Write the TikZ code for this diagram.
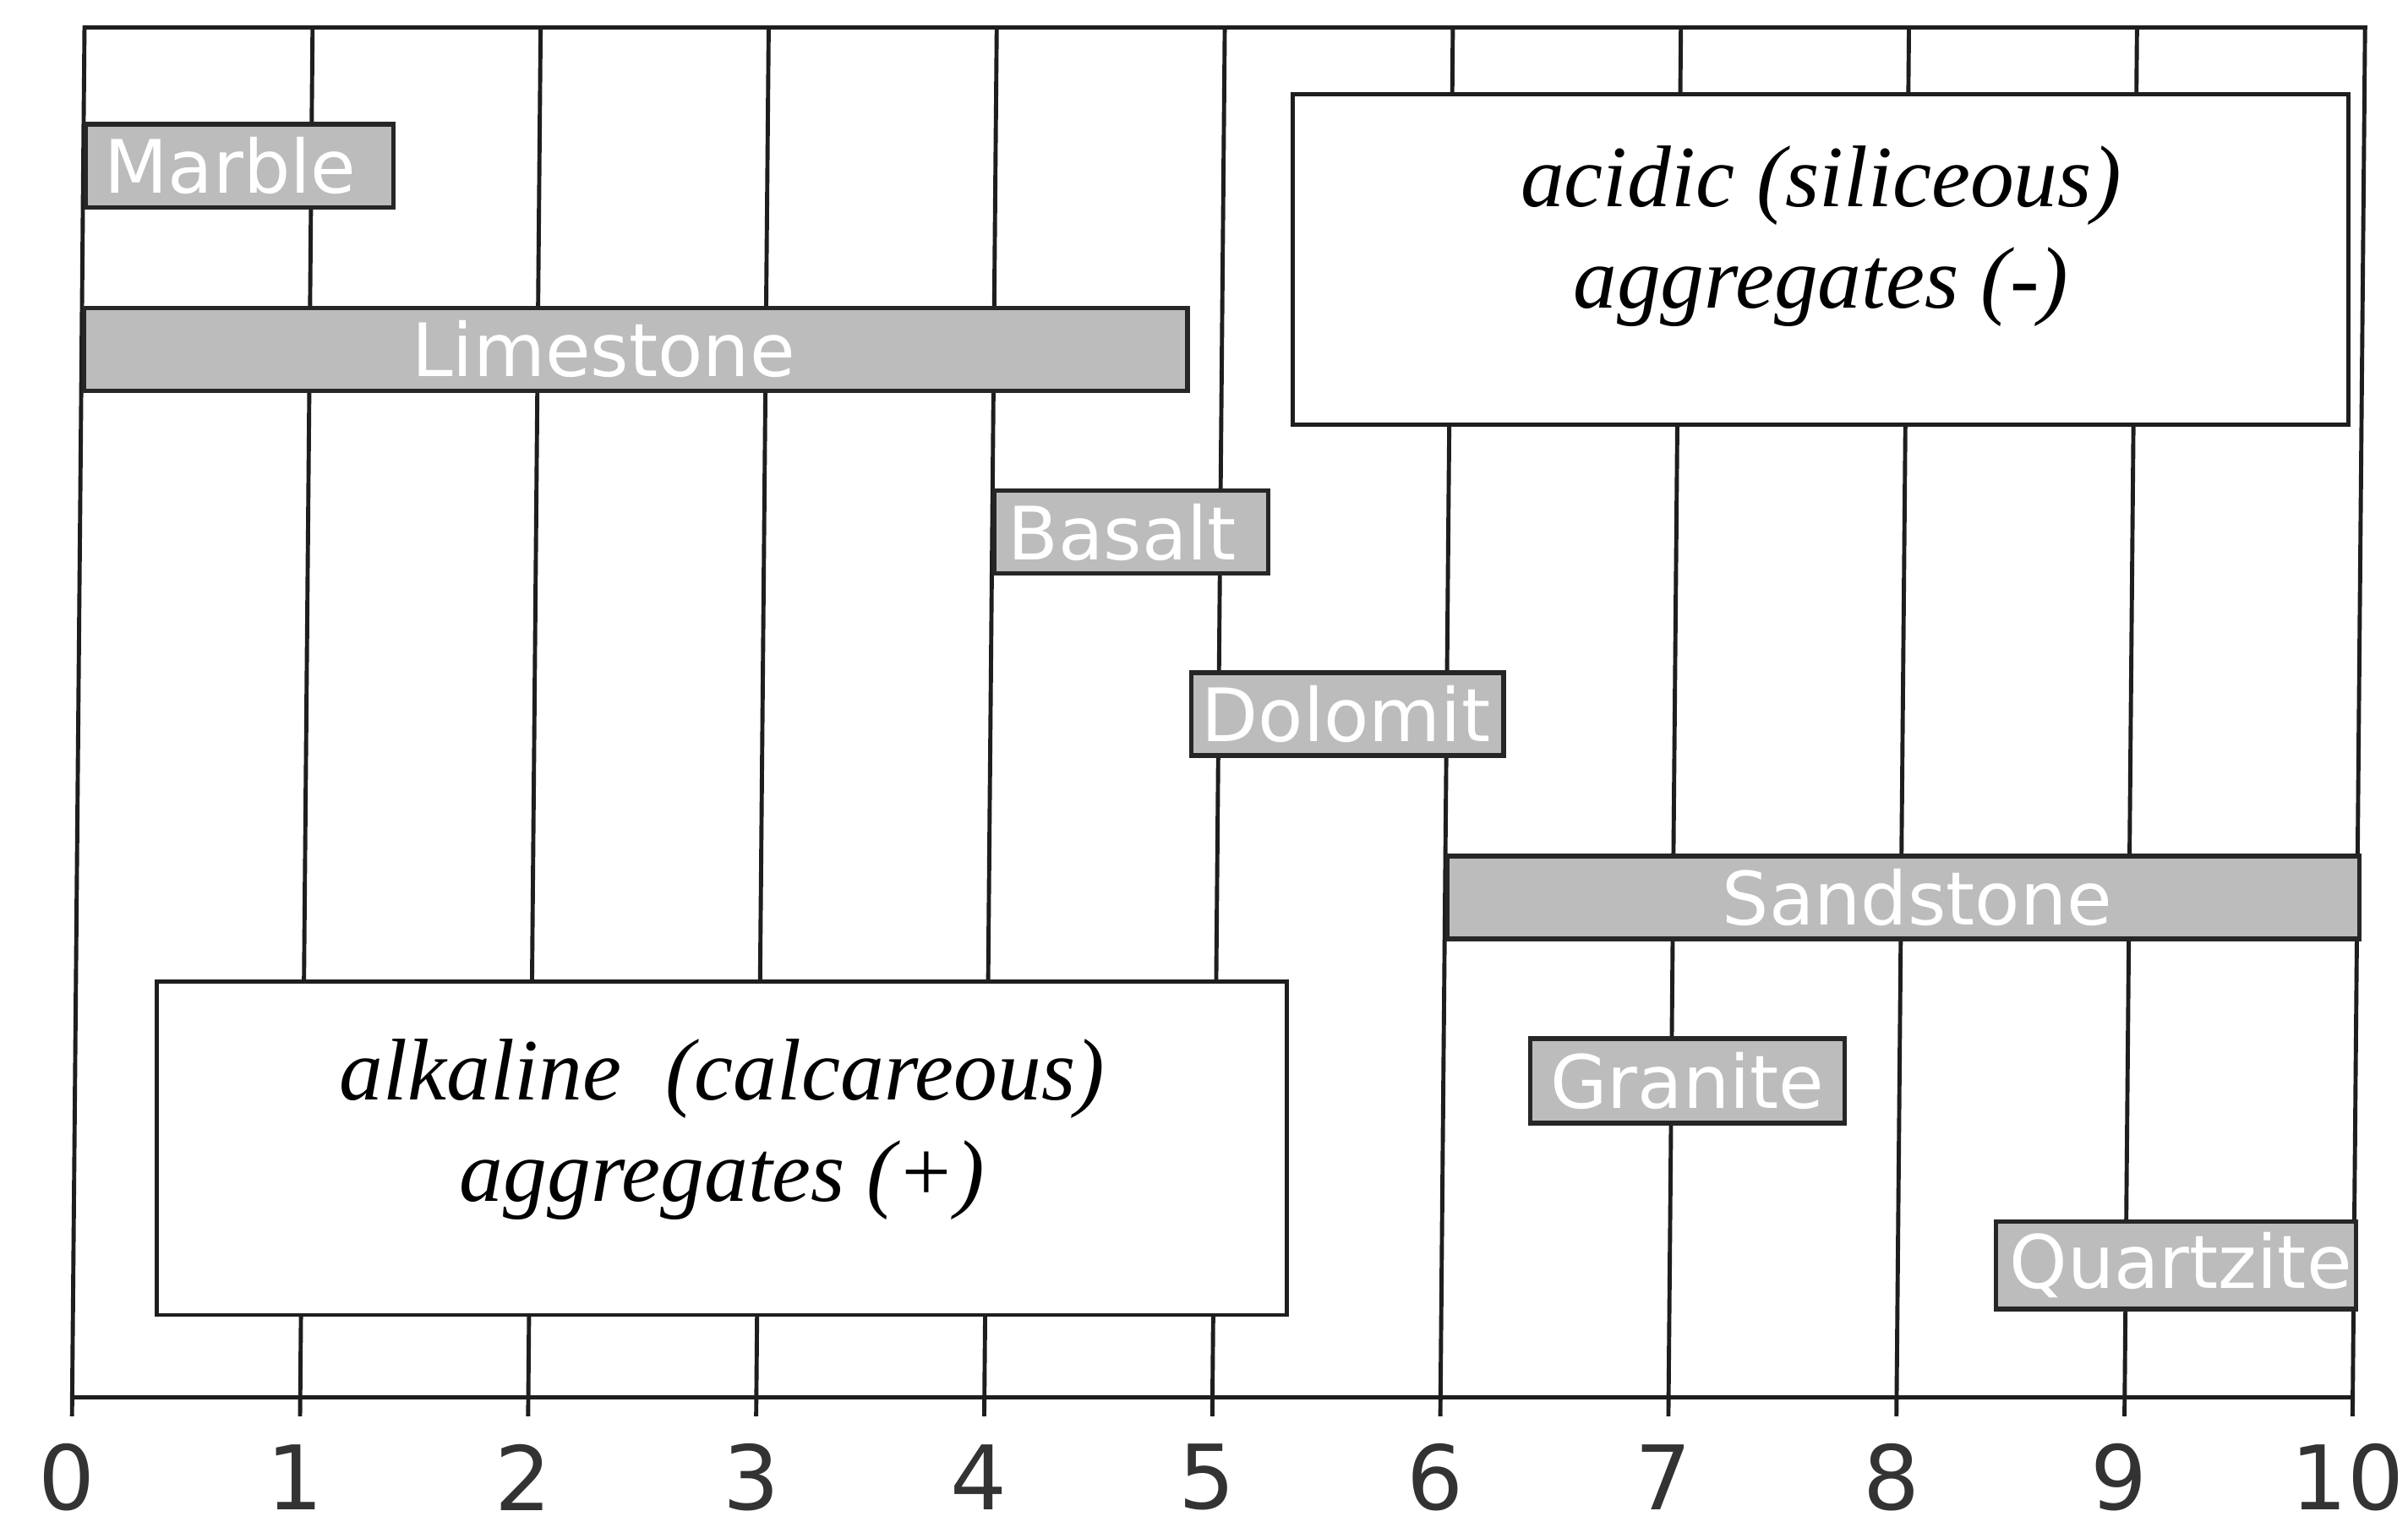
\documentclass[tikz,border=0pt]{standalone}
\usepackage{fontspec}
\setmainfont{Liberation Serif}
\newfontfamily\barfont{DejaVu Sans}
\newfontfamily\tickfont{DejaVu Sans}
\definecolor{gridc}{HTML}{1E1E1E}
\definecolor{barfill}{HTML}{BCBCBC}
\definecolor{barline}{HTML}{262626}
\newcommand\rockbar[7]{% name, left, right, Ycenter, height, text, text xshift
  \node[bar, anchor=west, minimum width={(#3-#2)*148.5pt}, minimum height=#5pt] (#1) at (#2,#4) {};
  \node[bartext] (#1-t) at ([xshift=#7pt]#1.center) {#6};}
\begin{document}
\begin{tikzpicture}[x=148.5pt, y=-1pt,
  gridline/.style={line width=2.7pt, draw=gridc, line cap=rect},
  bar/.style={draw=barline, line width=3pt, fill=barfill, inner sep=0pt},
  bartext/.style={text=white, inner sep=0pt, font=\barfont\fontsize{48}{52}\selectfont},
  catbox/.style={draw=gridc, line width=2.7pt, fill=white, inner sep=0pt},
  cattext/.style={inner sep=0pt, align=center, font=\itshape\fontsize{57}{66}\selectfont},
  ticklab/.style={font=\tickfont\fontsize{58}{58}\selectfont, text=black!80, inner sep=0pt}
]
\useasboundingbox[fill=white] (-0.3165,0) rectangle (10.2424,991);
\begin{scope}[xshift=8.19pt, xslant=0.009]
  % grid and frame
  \foreach \d in {0,...,10} {\draw[gridline] (\d,18) -- (\d,921);}
  \draw[gridline] (0,18) -- (10,18);
  \draw[gridline] (0,910) -- (10,910);
  % tick labels
  \foreach \d in {0,...,10} {\node[ticklab] (tick\d) at ([xshift=-3pt]\d,962) {\d};}
  % category boxes
  \node[catbox, anchor=north west, minimum width={(9.919-5.293)*148.5pt}, minimum height=215pt] (acidic) at (5.293,60) {};
  \node[cattext] (acidic-t) at ([yshift=15pt]acidic.center) {acidic (siliceous)\\aggregates (-)};
  \node[catbox, anchor=north west, minimum width={(5.30-0.347)*148.5pt}, minimum height=217pt] (alkaline) at (0.347,638) {};
  \node[cattext] (alkaline-t) at ([yshift=12pt]alkaline.center) {alkaline\ \ (calcareous)\\aggregates (+)};
  % rock bars
  \rockbar{marble}{0}{1.35}{108}{54}{Marble}{-6}
  \rockbar{limestone}{0}{4.84}{227.5}{54}{Limestone}{-21}
  \rockbar{basalt}{4.0}{5.2}{346.5}{54}{Basalt}{-6}
  \rockbar{dolomit}{4.87}{6.24}{465}{54}{Dolomit}{-1}
  \rockbar{sandstone}{6.0}{10.0}{584.5}{54}{Sandstone}{9}
  \rockbar{granite}{6.37}{7.75}{704}{55}{Granite}{0}
  \rockbar{quartzite}{8.42}{10.0}{824}{57}{Quartzite}{3}
\end{scope}
\end{tikzpicture}
\end{document}
